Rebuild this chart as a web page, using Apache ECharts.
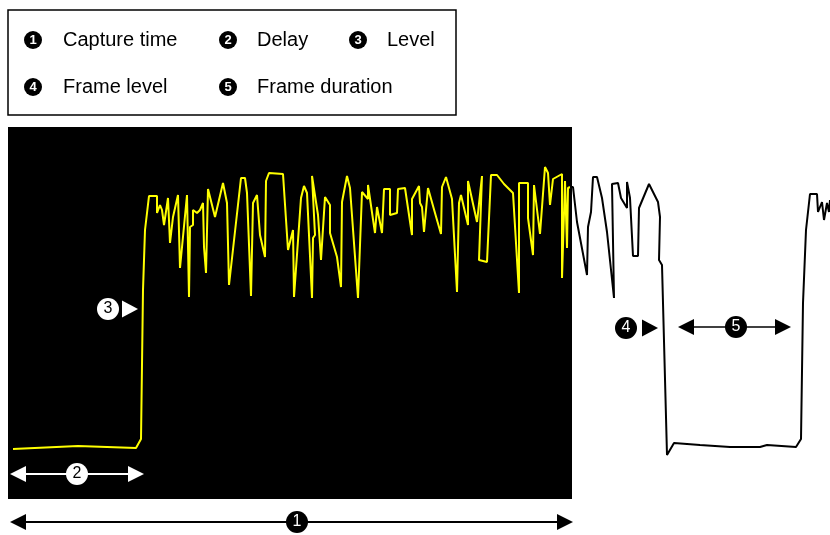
<!DOCTYPE html>
<html>
<head>
<meta charset="utf-8">
<script src="https://cdn.jsdelivr.net/npm/echarts@6/dist/echarts.min.js"></script>
<style>
html, body { margin: 0; padding: 0; background: #fff; }
#main { width: 830px; height: 535px; }
</style>
</head>
<body>
<div id="main"></div>
<script>
// trace: time (ms) and level
var traceTime = [5, 70, 128, 133, 135, 137, 141, 149, 149, 152, 154, 156, 160, 162, 165, 170, 172, 179, 181, 182,
    185, 185, 189, 192, 195, 196, 198, 200, 207, 215, 219, 221, 233, 237, 239, 243, 245, 249, 250, 252,
    257, 258, 261, 275, 280, 285, 286, 293, 296, 299, 304, 305, 307, 304, 310, 312, 313, 317, 322, 322,
    329, 333, 334, 339, 342, 350, 354, 360, 360, 367, 369, 374, 376, 382, 382, 389, 390, 397, 404, 404,
    411, 412, 414, 416, 420, 427, 433, 434, 438, 444, 449, 451, 453, 460, 460, 469, 474, 471, 479, 483,
    489, 496, 505, 511, 511, 520, 520, 525, 526, 532, 537, 540, 542, 545, 554, 554, 557, 559, 560, 562,
    565, 569, 579, 580, 583, 585, 589, 594, 599, 606, 604, 610, 613, 619, 619, 622, 625, 630, 631, 641,
    650, 652, 651, 654, 659, 666, 692, 722, 752, 759, 788, 793, 795, 798, 802, 809, 810, 814, 816, 819,
    821, 822];
var traceLevel = [50, 53, 51, 60, 209, 269, 303, 303, 286, 294, 289, 274, 301, 256, 282, 304, 231, 304, 202, 272,
    274, 289, 286, 289, 296, 252, 226, 310, 282, 316, 296, 214, 321, 321, 306, 203, 296, 304, 302, 264,
    242, 318, 326, 325, 249, 269, 202, 301, 313, 306, 201, 261, 264, 323, 284, 282, 239, 302, 294, 266,
    242, 212, 297, 323, 311, 201, 307, 300, 314, 266, 292, 266, 310, 310, 284, 286, 310, 311, 264, 300,
    313, 296, 292, 267, 311, 286, 265, 312, 322, 300, 207, 296, 304, 274, 318, 277, 323, 239, 237, 324,
    324, 315, 306, 206, 316, 316, 281, 244, 314, 265, 332, 326, 294, 320, 325, 221, 318, 251, 311, 312,
    312, 277, 224, 272, 287, 322, 322, 301, 267, 201, 315, 316, 301, 291, 317, 301, 243, 243, 291, 315,
    297, 282, 239, 234, 44, 56, 54, 52, 52, 54, 52, 60, 196, 269, 305, 305, 287, 297, 279, 296,
    287, 299];
var captureEnd = 564;   // end of the capture window
var levelTop = 372;     // top of the capture window
var legendNames = ['Capture time', 'Delay', 'Level', 'Frame level', 'Frame duration'];

// split the trace where it leaves the capture window
var insideData = [];
var outsideData = [];
for (var i = 0; i < traceTime.length; i++) {
    if (traceTime[i] <= 562) {
        insideData.push([traceTime[i], traceLevel[i]]);
    }
    if (traceTime[i] >= 562 || (i > 0 && traceTime[i - 1] >= 562)) {
        outsideData.push([traceTime[i], traceLevel[i]]);
    }
}

var font = '"Liberation Sans", Arial, sans-serif';

// legend box
var legendPos = [[33, 40, 63], [228, 40, 257], [358, 40, 387], [33, 87, 63], [228, 87, 257]];
var graphics = [{
    type: 'rect',
    shape: { x: 8, y: 10, width: 448, height: 105 },
    style: { fill: '#fff', stroke: '#000', lineWidth: 1.5 }
}];
legendNames.forEach(function (name, k) {
    var p = legendPos[k];
    graphics.push({
        type: 'circle',
        shape: { cx: p[0], cy: p[1], r: 9 },
        style: { fill: '#000' }
    });
    graphics.push({
        type: 'text',
        x: p[0], y: p[1] + 0.5,
        style: { text: String(k + 1), fill: '#fff', font: 'bold 13px ' + font, align: 'center', verticalAlign: 'middle' }
    });
    graphics.push({
        type: 'text',
        x: p[2], y: p[1],
        style: { text: name, fill: '#000', font: '20px ' + font, align: 'left', verticalAlign: 'middle' }
    });
});

function badge(num, t, l, bg, fg) {
    return {
        coord: [t, l], symbol: 'circle', symbolSize: 22,
        itemStyle: { color: bg },
        label: { show: true, position: 'inside', formatter: String(num), color: fg, fontSize: 16, fontFamily: font }
    };
}
function pointer(t, l, color) {
    return {
        coord: [t, l], symbol: 'triangle', symbolSize: [17, 16], symbolRotate: -90,
        itemStyle: { color: color }, label: { show: false }
    };
}
function span(t0, t1, l, color, w) {
    return [
        { coord: [t0, l], lineStyle: { color: color, width: w, type: 'solid' } },
        { coord: [t1, l] }
    ];
}

var myChart = echarts.init(document.getElementById('main'));
var option = {
    animation: false,
    backgroundColor: '#fff',
    grid: { left: 8, right: 0, top: 127, bottom: 0 },
    xAxis: { type: 'value', min: 0, max: 822, show: false },
    yAxis: { type: 'value', min: -36, max: levelTop, show: false },
    graphic: graphics,
    series: [
        {
            type: 'line',
            data: [],
            z: 1,
            silent: true,
            markArea: {
                silent: true,
                itemStyle: { color: '#000' },
                data: [[{ coord: [0, 0] }, { coord: [captureEnd, levelTop] }]]
            },
            markLine: {
                silent: true,
                symbol: ['triangle', 'triangle'],
                symbolSize: 16,
                label: { show: false },
                data: [
                    span(10, 557, -23, '#000', 2),
                    span(10, 128, 25, '#fff', 2),
                    span(678, 775, 172, '#000', 1.5)
                ]
            },
            markPoint: {
                silent: true,
                data: [
                    badge(1, 289, -23, '#000', '#fff'),
                    badge(2, 69, 25, '#fff', '#000'),
                    badge(3, 100, 190, '#fff', '#000'),
                    pointer(122, 190, '#fff'),
                    badge(4, 618, 171, '#000', '#fff'),
                    pointer(642, 171, '#000'),
                    badge(5, 728, 172, '#000', '#fff')
                ]
            }
        },
        {
            type: 'line',
            data: insideData,
            z: 2,
            silent: true,
            showSymbol: false,
            lineStyle: { width: 2, color: '#ffff00' }
        },
        {
            type: 'line',
            data: outsideData,
            z: 2,
            silent: true,
            showSymbol: false,
            lineStyle: { width: 2, color: '#000' }
        }
    ]
};
myChart.setOption(option);
</script>
</body>
</html>
